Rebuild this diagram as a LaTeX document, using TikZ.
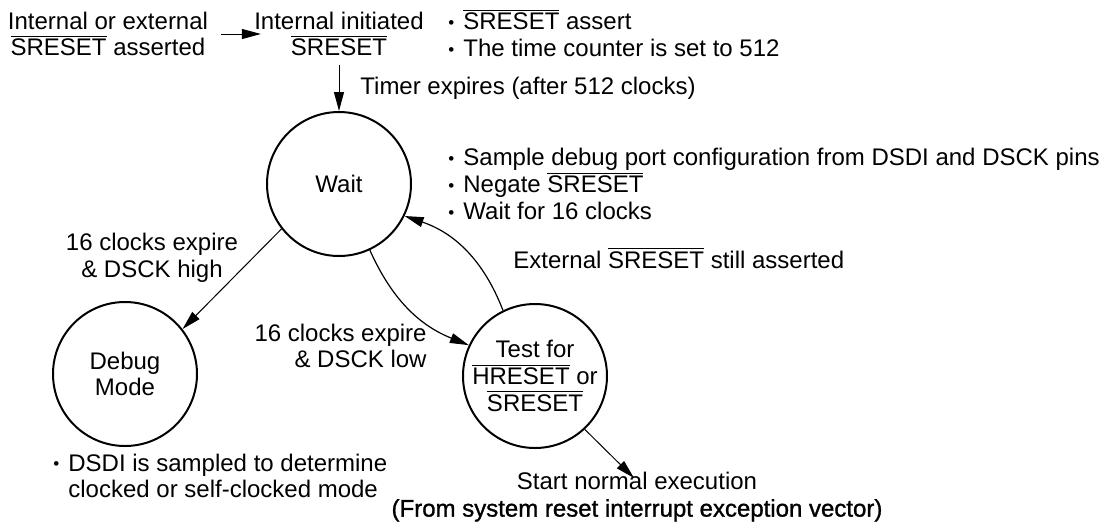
\documentclass[tikz,border=0pt]{standalone}
\usepackage{fontspec}
\setmainfont{Liberation Sans}
\newfontface\heavyface[FakeBold=1.2]{Liberation Sans}
\usetikzlibrary{positioning, arrows.meta}
\newcommand{\ovl}[1]{$\overline{\mbox{#1}}$}
\newcommand{\bul}{\makebox[7.5pt][l]{\raisebox{0.6pt}{\fontsize{8.5}{8.5}\selectfont\textbullet}}}

\begin{document}
\begin{tikzpicture}[x=0.5pt, y=-0.5pt, font=\fontsize{12}{13.4}\selectfont,
    state/.style={draw, circle, line width=1pt, minimum size=72pt, inner sep=0pt, align=center},
    txt/.style={inner sep=0pt, align=center},
    note/.style={inner sep=0pt, align=left, anchor=west},
    arr/.style={-{Triangle[length=9.5pt,width=5pt]}, line width=0.5pt}]
  \useasboundingbox (0,0) rectangle (1104,531);

  % states
  \node[state] (wait) at (339,184) {Wait};
  \node[state] (debug) at (125,374) {Debug\\Mode};
  \node[state] (test) at (535,376) {Test for\\\ovl{HRESET} or\\\ovl{SRESET}};

  % top row
  \node[txt] (src) at (108,34) {Internal or external\\\ovl{SRESET} asserted};
  \node[txt] (init) at (339,34) {Internal initiated\\\ovl{SRESET}};
  \node[note] (topnote) at (448,33) {\bul\ovl{SRESET} assert\\\bul The time counter is set to 512};
  \node[note] (timer) at (360,88) {Timer expires (after 512 clocks)};

  % notes and labels
  \node[note] (waitnote) at (448,184) {\bul Sample debug port configuration from DSDI and DSCK pins\\\bul Negate \ovl{SRESET}\\\bul Wait for 16 clocks};
  \node[note] (extlbl) at (513,258) {External \ovl{SRESET} still asserted};
  \node[txt] (highlbl) at (152,258) {16 clocks expire\\\& DSCK high};
  \node[txt, align=right, anchor=east] (lowlbl) at (427,346) {16 clocks expire\\\& DSCK low};
  \node[note] (debugnote) at (53,476) {\bul DSDI is sampled to determine\\\hspace*{7.5pt}clocked or self-clocked mode};
  \node[txt] (startlbl) at (637,497) {Start normal execution\\{\heavyface (From system reset interrupt exception vector)}};
  \coordinate (start) at (634,478);

  % transitions
  \draw[arr] ([xshift=6.5pt]src.east) -- ([xshift=3.5pt]init.west);
  \draw[arr] ([yshift=-4pt]init.south) -- (wait.north);
  \draw[arr] (wait.218) -- (debug.38);
  \draw[arr, line width=0.6pt] (wait.-65) to[bend right=22] (test.155);
  \draw[arr, line width=0.6pt] (test.116) to[bend right=25] (wait.-26);
  \draw[arr] (test.-47) -- (start);
\end{tikzpicture}
\end{document}
